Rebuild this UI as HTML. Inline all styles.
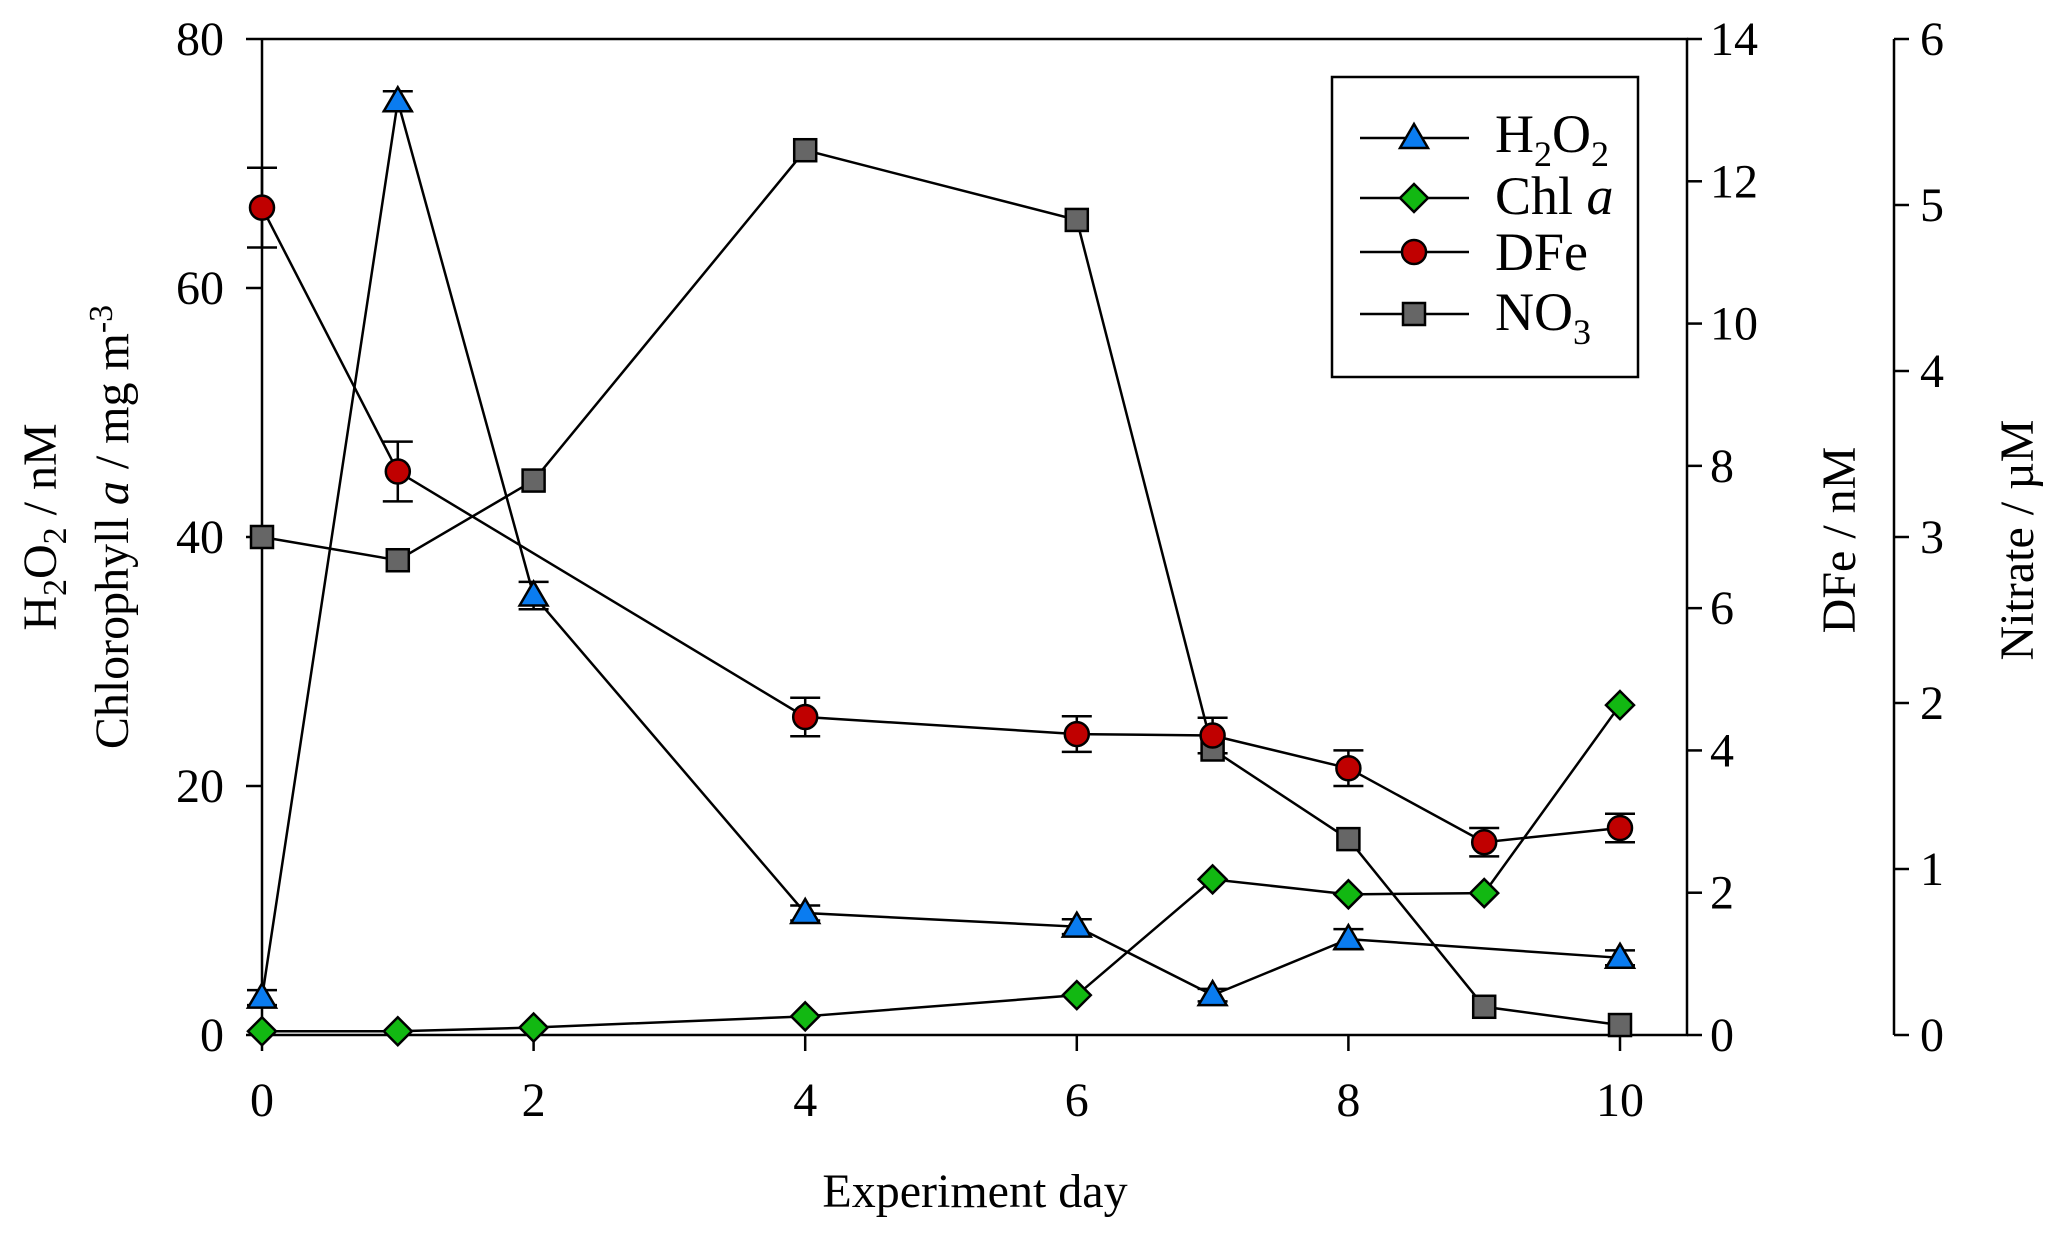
<!DOCTYPE html>
<html><head><meta charset="utf-8"><style>
body{margin:0;background:#fff}
svg text{font-family:"Liberation Serif",serif;fill:#000}
</style></head><body>
<svg width="2067" height="1240">
<g id="axes"></g><g id="series"></g>
<g>
<rect x="1332" y="77" width="306" height="300" fill="#fff" stroke="#000" stroke-width="2.5"/>
<g id="leg"></g>
<text x="1495" y="152" font-size="54">H<tspan font-size="36" dy="14">2</tspan><tspan dy="-14">O</tspan><tspan font-size="36" dy="14">2</tspan></text>
<text x="1495" y="214" font-size="54">Chl <tspan font-style="italic">a</tspan></text>
<text x="1495" y="270" font-size="54">DFe</text>
<text x="1495" y="330" font-size="54">NO<tspan font-size="36" dy="14">3</tspan></text>
</g>
<text x="975" y="1207" font-size="48" text-anchor="middle">Experiment day</text>
<text transform="translate(56,527) rotate(-90)" font-size="48" text-anchor="middle">H<tspan font-size="34" dy="10">2</tspan><tspan dy="-10">O</tspan><tspan font-size="34" dy="10">2</tspan><tspan dy="-10"> / nM</tspan></text>
<text transform="translate(128,527) rotate(-90)" font-size="48" text-anchor="middle">Chlorophyll <tspan font-style="italic">a</tspan> / mg m<tspan font-size="34" dy="-16">-3</tspan></text>
<text transform="translate(1855,540) rotate(-90)" font-size="48" text-anchor="middle">DFe / nM</text>
<text transform="translate(2033,540) rotate(-90)" font-size="48" text-anchor="middle">Nitrate / µM</text>
</svg>
<script>
const xTicks=[0,2,4,6,8,10];
const leftTicks=[0,20,40,60,80];
const dfeTicks=[0,2,4,6,8,10,12,14];
const no3Ticks=[0,1,2,3,4,5,6];
const h2o2Days=[0,1,2,4,6,7,8,10];
const h2o2Vals=[3,75,35.3,9.8,8.7,3.2,7.7,6.2];
const h2o2Err=[0.6,0.8,1.1,0.6,0.6,0.5,0.8,0.6];
const chlDays=[0,1,2,4,6,7,8,9,10];
const chlVals=[0.3,0.3,0.6,1.5,3.2,12.5,11.3,11.4,26.5];
const dfeDays=[0,1,4,6,7,8,9,10];
const dfeVals=[11.63,7.92,4.47,4.23,4.21,3.75,2.71,2.91];
const dfeErr=[0.56,0.42,0.27,0.25,0.25,0.25,0.2,0.2];
const no3Days=[0,1,2,4,6,7,8,9,10];
const no3Vals=[3.0,2.86,3.34,5.33,4.91,1.72,1.18,0.17,0.06];

const NS="http://www.w3.org/2000/svg";
const X0=262,X1=1620,YT=39,YB=1035,RA=1687,NA=1894;
const xs=d=>X0+(X1-X0)*d/10;
const yL=v=>YB-(YB-YT)*v/80;
const yD=v=>YB-(YB-YT)*v/14;
const yN=v=>YB-(YB-YT)*v/6;
function mk(parent,tag,attrs){const e=document.createElementNS(NS,tag);for(const k in attrs)e.setAttribute(k,attrs[k]);parent.appendChild(e);return e;}
const ax=document.getElementById('axes'),se=document.getElementById('series');
let l;
l=mk(ax,'path',{d:`M${X0},${YT}V${YB}H${RA}V${YT}H${X0}`,fill:'none',stroke:'#000','stroke-width':2.5});


l=mk(ax,'line',{x1:NA,y1:YT,x2:NA,y2:YB,stroke:'#000','stroke-width':2.5});


xTicks.forEach(t=>{mk(ax,'line',{x1:xs(t),y1:YB,x2:xs(t),y2:YB+16,stroke:'#000','stroke-width':2.5});
 const e=mk(ax,'text',{x:xs(t),y:YB+81,'font-size':48,'text-anchor':'middle'});e.textContent=t;
 
 });
leftTicks.forEach(t=>{mk(ax,'line',{x1:X0-16,y1:yL(t),x2:X0,y2:yL(t),stroke:'#000','stroke-width':2.5});
 const e=mk(ax,'text',{x:224,y:yL(t)+16,'font-size':48,'text-anchor':'end'});e.textContent=t;
 
 });
dfeTicks.forEach(t=>{mk(ax,'line',{x1:RA,y1:yD(t),x2:RA+15,y2:yD(t),stroke:'#000','stroke-width':2.5});
 const e=mk(ax,'text',{x:1710,y:yD(t)+16,'font-size':48});e.textContent=t;
 
 });
no3Ticks.forEach(t=>{mk(ax,'line',{x1:NA,y1:yN(t),x2:NA+15,y2:yN(t),stroke:'#000','stroke-width':2.5});
 const e=mk(ax,'text',{x:1920,y:yN(t)+16,'font-size':48});e.textContent=t;
 
 });

function line(days,vals,fy,name){const p=mk(se,'polyline',{points:days.map((d,i)=>xs(d)+','+fy(vals[i])).join(' '),fill:'none',stroke:'#000','stroke-width':2.5});
 
 }
function err(days,vals,errs,fy){days.forEach((d,i)=>{const x=xs(d),a=fy(vals[i]+errs[i]),b=fy(vals[i]-errs[i]);
 mk(se,'path',{d:`M${x},${a}V${b}M${x-15},${a}H${x+15}M${x-15},${b}H${x+15}`,stroke:'#000','stroke-width':2.5,fill:'none'});});}
function tri(g,x,y){return mk(g,'path',{d:`M${x},${y-14}L${x+14},${y+10}L${x-14},${y+10}Z`,fill:'#0a7cf0',stroke:'#000','stroke-width':2.5});}
function dia(g,x,y){return mk(g,'path',{d:`M${x},${y-14}L${x+14},${y}L${x},${y+14}L${x-14},${y}Z`,fill:'#12b812',stroke:'#000','stroke-width':2.5});}
function cir(g,x,y){return mk(g,'circle',{cx:x,cy:y,r:12,fill:'#c00000',stroke:'#000','stroke-width':2.5});}
function sq(g,x,y){return mk(g,'rect',{x:x-11,y:y-11,width:22,height:22,fill:'#666',stroke:'#000','stroke-width':2.5});}

line(no3Days,no3Vals,yN,'no3-line');
line(dfeDays,dfeVals,yD,'dfe-line');
line(chlDays,chlVals,yL,'chl-line');
line(h2o2Days,h2o2Vals,yL,'h2o2-line');
err(dfeDays,dfeVals,dfeErr,yD);
err(h2o2Days,h2o2Vals,h2o2Err,yL);
no3Days.forEach((d,i)=>{const e=sq(se,xs(d),yN(no3Vals[i]));});
dfeDays.forEach((d,i)=>{const e=cir(se,xs(d),yD(dfeVals[i]));});
chlDays.forEach((d,i)=>{const e=dia(se,xs(d),yL(chlVals[i]));});
h2o2Days.forEach((d,i)=>{const e=tri(se,xs(d),yL(h2o2Vals[i]));});

const lg=document.getElementById('leg');
[[138,tri],[198,dia],[252,cir],[314,sq]].forEach(([y,f])=>{mk(lg,'line',{x1:1360,y1:y,x2:1469,y2:y,stroke:'#000','stroke-width':2.5});
 const e=f(lg,1414,y);});
</script>
</body></html>
